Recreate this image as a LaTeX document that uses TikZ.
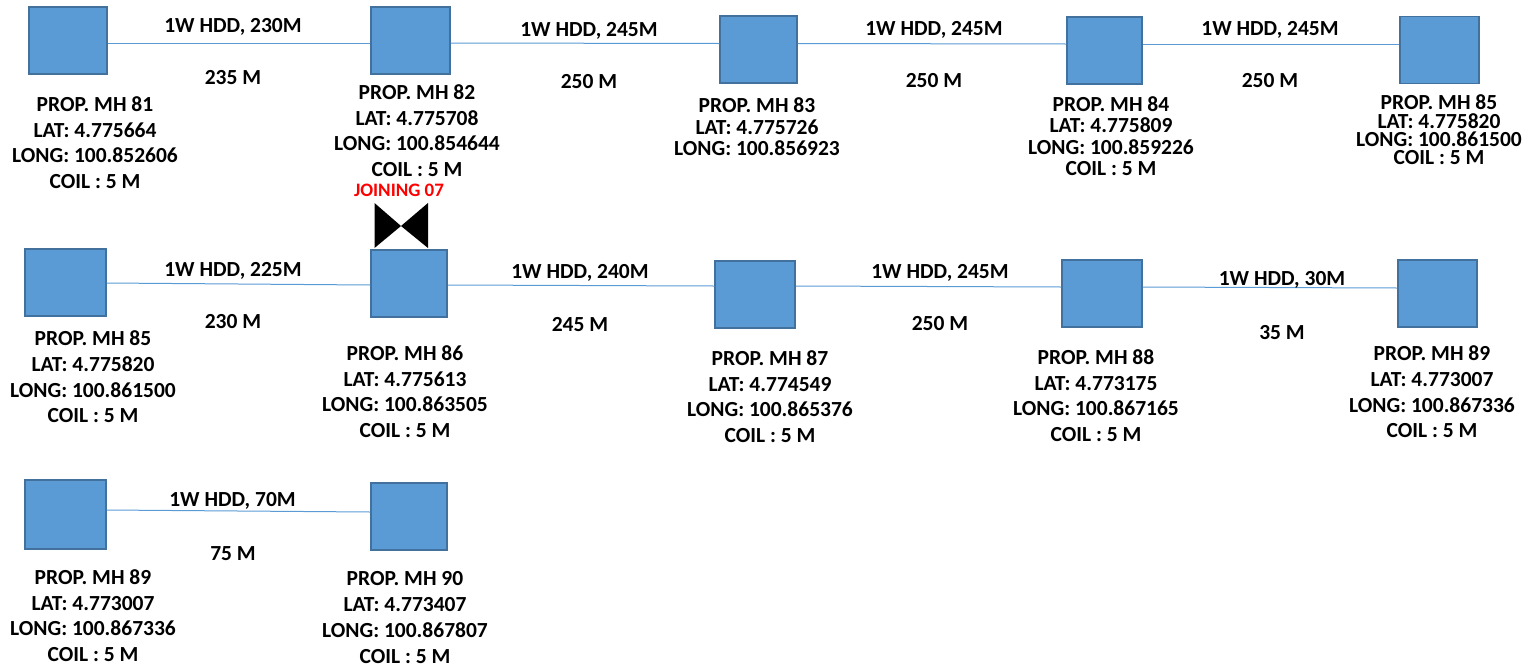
\documentclass[tikz,border=0pt]{standalone}
\usepackage{fontspec}
\setmainfont{Carlito}
\definecolor{mhblue}{HTML}{5B9BD5}
\definecolor{mhedge}{HTML}{41719C}
\tikzset{
  mhbox/.style={draw=mhedge, fill=mhblue, line width=1.5pt, minimum width=#1, minimum height=67pt, inner sep=0pt},
  mhtext/.style={align=center, inner sep=0pt, font=\fontsize{21.5}{25.7}\selectfont\bfseries},
  hddtext/.style={inner sep=0pt, font=\fontsize{21.5}{22}\selectfont\bfseries},
  hddline/.style={mhblue, line width=1pt}
}

\begin{document}
\begin{tikzpicture}[x=1pt, y=-1pt]
    \useasboundingbox (0,0) rectangle (1526,667);

    % first row
    \node[mhbox=78pt] (mh81) at (68,40.5) {};
    \node[mhbox=79pt] (mh82) at (410.5,40.5) {};
    \node[mhbox=77pt] (mh83) at (758.5,49.5) {};
    \node[mhbox=75pt] (mh84) at (1104.5,50.5) {};
    \node[mhbox=79pt] (mh85) at (1439.5,50) {};
    \draw[hddline] ([yshift=-2.5pt]mh81.east) -- ([yshift=-2.5pt]mh82.west);
    \draw[hddline] ([yshift=-2.5pt]mh82.east) -- ([yshift=6pt]mh83.west);
    \draw[hddline] ([yshift=6pt]mh83.east) -- ([yshift=6.5pt]mh84.west);
    \draw[hddline] ([yshift=6.5pt]mh84.east) -- ([yshift=6pt]mh85.west);
    \node[mhtext] (mh81text) at (95,142.5) {PROP. MH 81\\LAT: 4.775664\\LONG: 100.852606\\COIL : 5 M};
    \node[mhtext] (mh82text) at (417,130.5) {PROP. MH 82\\LAT: 4.775708\\LONG: 100.854644\\COIL : 5 M};
    \node[mhtext, font=\fontsize{21.5}{21.5}\selectfont\bfseries] (mh83text) at (757,127) {PROP. MH 83\\LAT: 4.775726\\LONG: 100.856923};
    \node[mhtext, font=\fontsize{21.5}{21.5}\selectfont\bfseries] (mh84text) at (1111,136) {PROP. MH 84\\LAT: 4.775809\\LONG: 100.859226\\COIL : 5 M};
    \node[mhtext, font=\fontsize{21.5}{18.3}\selectfont\bfseries] (mh85text) at (1439,130) {PROP. MH 85\\LAT: 4.775820\\LONG: 100.861500\\COIL : 5 M};
    \node[hddtext] (hdd81) at (233,27) {1W HDD, 230M};
    \node[hddtext] (len81) at (233,78) {235 M};
    \node[hddtext] (hdd82) at (589,30.5) {1W HDD, 245M};
    \node[hddtext] (len82) at (589,81.5) {250 M};
    \node[hddtext] (hdd83) at (934,30) {1W HDD, 245M};
    \node[hddtext] (len83) at (934,80.5) {250 M};
    \node[hddtext] (hdd84) at (1270,30) {1W HDD, 245M};
    \node[hddtext] (len84) at (1270,80.5) {250 M};

    % second row
    \node[mhbox=81pt] (mh85b) at (65.5,282.5) {};
    \node[mhbox=76pt] (mh86) at (409,283.5) {};
    \node[mhbox=80pt] (mh87) at (755,294.5) {};
    \node[mhbox=80pt] (mh88) at (1102,293.5) {};
    \node[mhbox=79pt] (mh89) at (1437.5,293.5) {};
    \draw[hddline] ([yshift=-0.5pt]mh85b.east) -- ([yshift=-1.5pt]mh86.west);
    \draw[hddline] ([yshift=-1.5pt]mh86.east) -- ([yshift=8.5pt]mh87.west);
    \draw[hddline] ([yshift=8.5pt]mh87.east) -- ([yshift=6.5pt]mh88.west);
    \draw[hddline] ([yshift=6.5pt]mh88.east) -- ([yshift=5.5pt]mh89.west);
    \node[mhtext] (mh85btext) at (93,377) {PROP. MH 85\\LAT: 4.775820\\LONG: 100.861500\\COIL : 5 M};
    \node[mhtext] (mh86text) at (405,391.5) {PROP. MH 86\\LAT: 4.775613\\LONG: 100.863505\\COIL : 5 M};
    \node[mhtext] (mh87text) at (770,396.5) {PROP. MH 87\\LAT: 4.774549\\LONG: 100.865376\\COIL : 5 M};
    \node[mhtext] (mh88text) at (1096,395.5) {PROP. MH 88\\LAT: 4.773175\\LONG: 100.867165\\COIL : 5 M};
    \node[mhtext] (mh89text) at (1432,392) {PROP. MH 89\\LAT: 4.773007\\LONG: 100.867336\\COIL : 5 M};
    \node[hddtext] (hdd85) at (233,270.5) {1W HDD, 225M};
    \node[hddtext] (len85) at (233,321.5) {230 M};
    \node[hddtext] (hdd86) at (580,272.5) {1W HDD, 240M};
    \node[hddtext] (len86) at (580,325) {245 M};
    \node[hddtext] (hdd87) at (940,272.5) {1W HDD, 245M};
    \node[hddtext] (len87) at (940,323.5) {250 M};
    \node[hddtext] (hdd88) at (1282,280) {1W HDD, 30M};
    \node[hddtext] (len88) at (1282,332.5) {35 M};

    % joining
    \node[text=red, inner sep=0pt, font=\fontsize{19}{20}\selectfont\bfseries] (joining) at (399,190) {JOINING 07};
    \coordinate (joint) at (401,226);
    \fill (joint) -- (374.5,203) -- (374.5,248) -- cycle;
    \fill (joint) -- (428,203) -- (428,248) -- cycle;

    % third row
    \node[mhbox=81pt, minimum height=69pt] (mh89b) at (65.5,514.5) {};
    \node[mhbox=76pt] (mh90) at (409,516.5) {};
    \draw[hddline] ([yshift=4.5pt]mh89b.east) -- ([yshift=4.5pt]mh90.west);
    \node[mhtext] (mh89btext) at (93,615.5) {PROP. MH 89\\LAT: 4.773007\\LONG: 100.867336\\COIL : 5 M};
    \node[mhtext] (mh90text) at (405,617.5) {PROP. MH 90\\LAT: 4.773407\\LONG: 100.867807\\COIL : 5 M};
    \node[hddtext] (hdd89) at (232.5,501) {1W HDD, 70M};
    \node[hddtext] (len89) at (233,553.5) {75 M};
\end{tikzpicture}
\end{document}
